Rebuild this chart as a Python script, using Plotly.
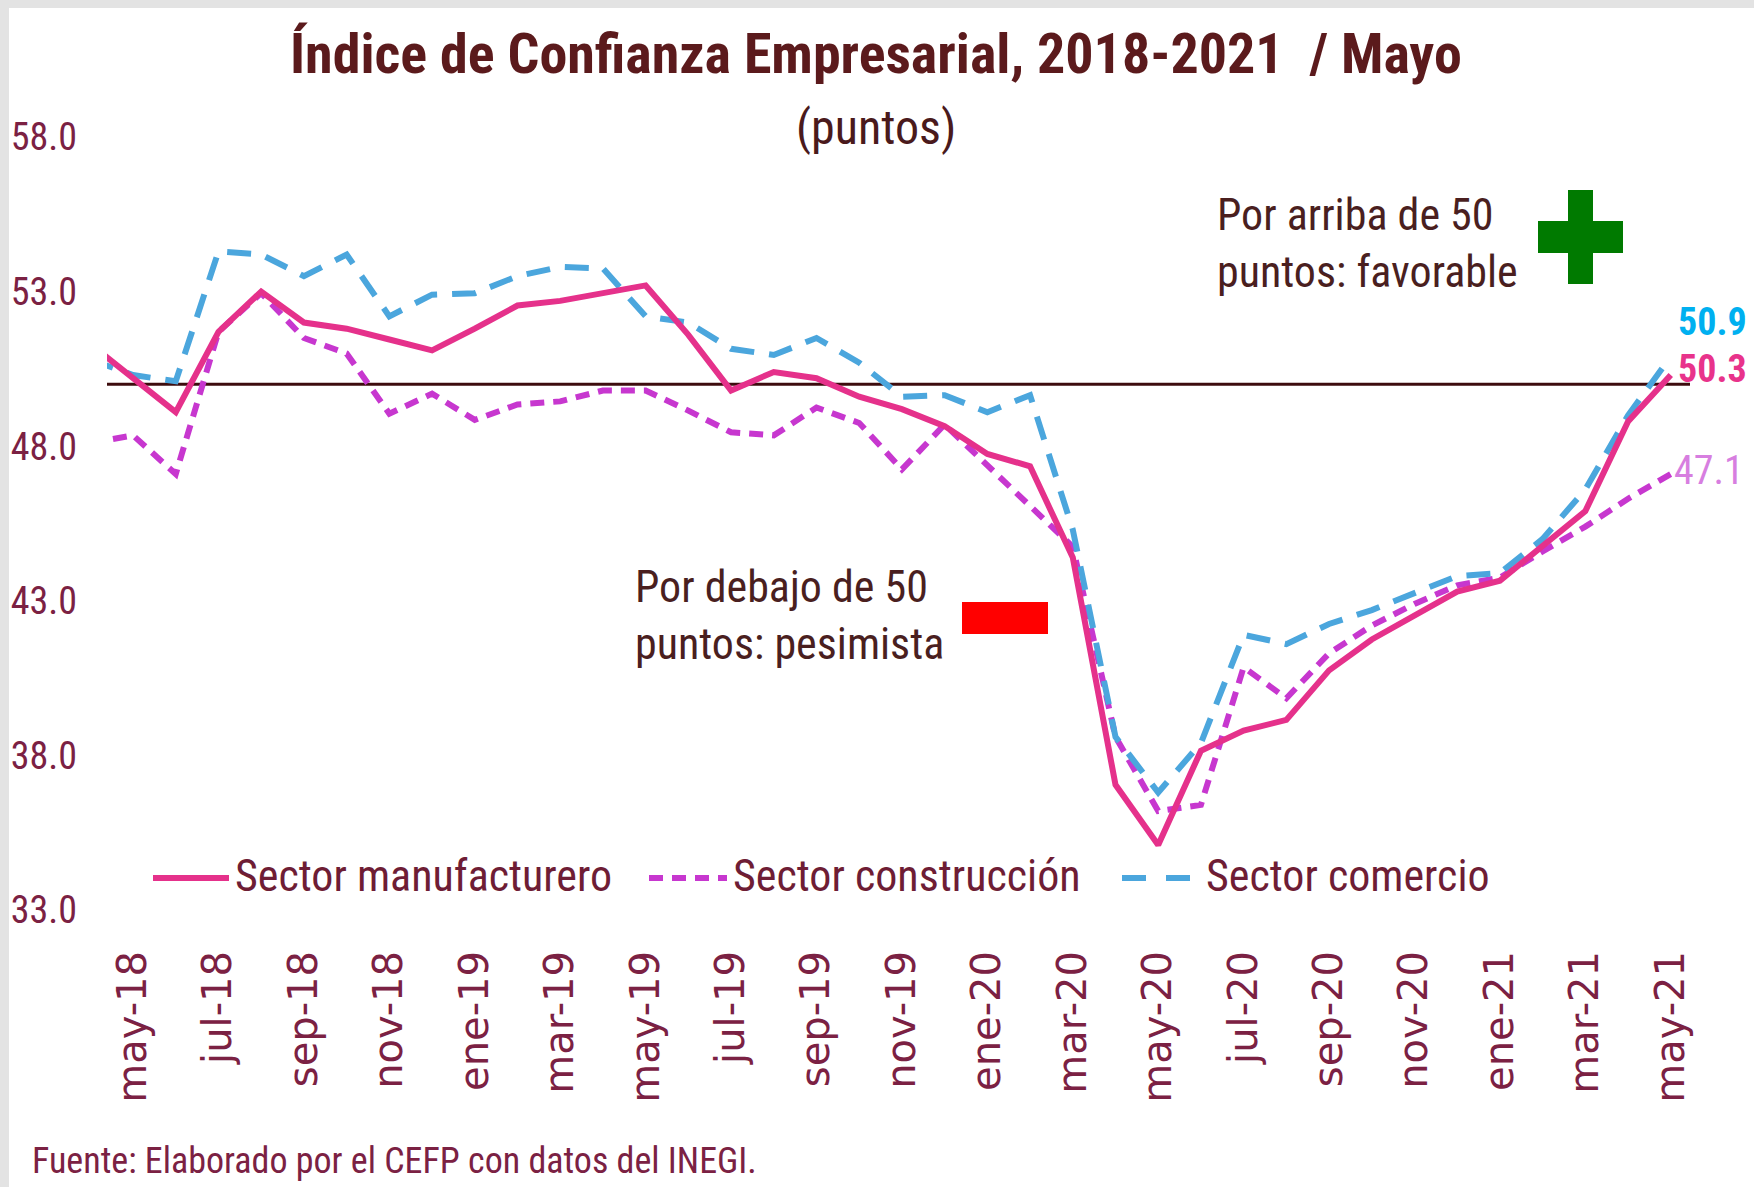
import plotly.graph_objects as go

# ---------------- data ----------------
months = ["abr-18", "may-18", "jun-18", "jul-18", "ago-18", "sep-18", "oct-18", "nov-18", "dic-18",
          "ene-19", "feb-19", "mar-19", "abr-19", "may-19", "jun-19", "jul-19", "ago-19", "sep-19",
          "oct-19", "nov-19", "dic-19", "ene-20", "feb-20", "mar-20", "abr-20", "may-20", "jun-20",
          "jul-20", "ago-20", "sep-20", "oct-20", "nov-20", "dic-20", "ene-21", "feb-21", "mar-21",
          "abr-21", "may-21"]

manufacturero = [51.3, 50.2, 49.1, 51.7, 53.0, 52.0, 51.8, 51.45, 51.1,
                 51.8, 52.55, 52.7, 52.95, 53.2, 51.6, 49.8, 50.4, 50.2,
                 49.6, 49.2, 48.65, 47.75, 47.35, 44.4, 37.05, 35.1, 38.15,
                 38.8, 39.15, 40.75, 41.75, 42.5, 43.3, 43.65, 44.8, 45.9,
                 48.8, 50.3]

construccion = [48.1, 48.35, 47.1, 51.7, 52.95, 51.5, 51.0, 49.05, 49.7,
                48.85, 49.35, 49.45, 49.8, 49.8, 49.15, 48.45, 48.35, 49.25,
                48.75, 47.25, 48.7, 47.4, 46.1, 44.75, 38.6, 36.2, 36.4,
                40.85, 39.85, 41.3, 42.2, 42.9, 43.5, 43.75, 44.6, 45.4,
                46.3, 47.1]

comercio = [50.8, 50.3, 50.1, 54.3, 54.2, 53.5, 54.2, 52.2, 52.9,
            52.95, 53.5, 53.8, 53.75, 52.2, 52.0, 51.15, 50.95, 51.5,
            50.7, 49.6, 49.65, 49.1, 49.65, 45.3, 38.6, 36.8, 38.4,
            41.9, 41.6, 42.25, 42.7, 43.25, 43.8, 43.9, 45.0, 46.6,
            49.0, 50.9]

series_names = ["Sector manufacturero", "Sector construcción", "Sector comercio"]
tick_months = months[1::2]
y_ticks = [33.0, 38.0, 43.0, 48.0, 53.0, 58.0]
threshold = 50

# ---------------- styling ----------------
W, H = 1754, 1187
L, R, T, B = 107, 1690, 137, 910

C_MAN = "#E5318B"
C_CON = "#C737CF"
C_COM = "#4BA6DD"
NARROW = "Liberation Sans Narrow, Roboto Condensed, DejaVu Sans Condensed, Arial Narrow, sans-serif"
WIDE = "DejaVu Sans, Verdana, sans-serif"
MAROON = "#7B2143"


def px(x):
    return (x - L) / (R - L)


def py(y):
    return (B - y) / (B - T)


fig = go.Figure()

fig.add_trace(go.Scatter(x=months, y=construccion, mode="lines", name=series_names[1],
                         line=dict(color=C_CON, width=6, dash="14px,9px"), showlegend=False))
fig.add_trace(go.Scatter(x=months, y=comercio, mode="lines", name=series_names[2],
                         line=dict(color=C_COM, width=6, dash="24px,15px"), showlegend=False))
fig.add_trace(go.Scatter(x=months, y=manufacturero, mode="lines", name=series_names[0],
                         line=dict(color=C_MAN, width=6), showlegend=False))

shapes = [
    # threshold line
    dict(type="line", xref="paper", yref="y", x0=0, x1=1, y0=threshold, y1=threshold,
         line=dict(color="#3D0C0E", width=3), layer="below"),
    # green plus
    dict(type="rect", xref="paper", yref="paper", x0=px(1568), x1=px(1593), y0=py(284), y1=py(190),
         fillcolor="#007A00", line=dict(width=0)),
    dict(type="rect", xref="paper", yref="paper", x0=px(1538), x1=px(1623), y0=py(253), y1=py(221),
         fillcolor="#007A00", line=dict(width=0)),
    # red minus
    dict(type="rect", xref="paper", yref="paper", x0=px(962), x1=px(1048), y0=py(634), y1=py(602),
         fillcolor="#FF0000", line=dict(width=0)),
    # textured frame strips
    dict(type="rect", xref="paper", yref="paper", x0=px(0), x1=px(9), y0=py(H), y1=py(0),
         fillcolor="#E3E3E3", line=dict(width=0), layer="below"),
    dict(type="rect", xref="paper", yref="paper", x0=px(0), x1=px(W), y0=py(8), y1=py(0),
         fillcolor="#E3E3E3", line=dict(width=0), layer="below"),
    # legend samples
    dict(type="line", xref="paper", yref="paper", x0=px(153), x1=px(229), y0=py(878), y1=py(878),
         line=dict(color=C_MAN, width=6)),
    dict(type="line", xref="paper", yref="paper", x0=px(649), x1=px(727), y0=py(878), y1=py(878),
         line=dict(color=C_CON, width=6, dash="14px,9px")),
    dict(type="line", xref="paper", yref="paper", x0=px(1122), x1=px(1199), y0=py(878), y1=py(878),
         line=dict(color=C_COM, width=6, dash="24px,20px")),
]

annotations = [
    dict(text="<b>Índice de Confianza Empresarial, 2018-2021  / Mayo</b>", xref="paper", yref="paper",
         x=px(876), y=py(54), xanchor="center", yanchor="middle", showarrow=False,
         font=dict(family=NARROW, size=56, color="#5B1A1C")),
    dict(text="(puntos)", xref="paper", yref="paper", x=px(876), y=py(127), xanchor="center",
         yanchor="middle", showarrow=False, font=dict(family=NARROW, size=48, color="#4A1A1C")),
    dict(text="Fuente: Elaborado por el CEFP con datos del INEGI.", xref="paper", yref="paper",
         x=px(30), y=py(1161), xanchor="left", yanchor="middle", showarrow=False,
         font=dict(family=NARROW, size=36, color=MAROON)),
    dict(text="Por arriba de 50<br>puntos: favorable", xref="paper", yref="paper", x=px(1215),
         y=py(243), xanchor="left", yanchor="middle", align="left", showarrow=False,
         font=dict(family=NARROW, size=44, color="#4A1F1F")),
    dict(text="Por debajo de 50<br>puntos: pesimista", xref="paper", yref="paper", x=px(633),
         y=py(615), xanchor="left", yanchor="middle", align="left", showarrow=False,
         font=dict(family=NARROW, size=44, color="#4A1F1F")),
    # legend texts
    dict(text=series_names[0], xref="paper", yref="paper", x=px(233), y=py(876), xanchor="left",
         yanchor="middle", showarrow=False, font=dict(family=NARROW, size=44, color="#6E1D35")),
    dict(text=series_names[1], xref="paper", yref="paper", x=px(731), y=py(876), xanchor="left",
         yanchor="middle", showarrow=False, font=dict(family=NARROW, size=44, color="#6E1D35")),
    dict(text=series_names[2], xref="paper", yref="paper", x=px(1204), y=py(876), xanchor="left",
         yanchor="middle", showarrow=False, font=dict(family=NARROW, size=44, color="#6E1D35")),
    # end labels
    dict(text="<b>%.1f</b>" % comercio[-1], x=months[-1], y=comercio[-1], xanchor="left",
         yanchor="middle", xshift=5, yshift=35, showarrow=False,
         font=dict(family=NARROW, size=38, color="#00B0F0")),
    dict(text="<b>%.1f</b>" % manufacturero[-1], x=months[-1], y=manufacturero[-1], xanchor="left",
         yanchor="middle", xshift=5, yshift=6, showarrow=False,
         font=dict(family=NARROW, size=38, color="#E8338B")),
    dict(text="%.1f" % construccion[-1], x=months[-1], y=construccion[-1], xanchor="left",
         yanchor="middle", xshift=1, yshift=4, showarrow=False,
         font=dict(family=NARROW, size=40, color="#D77EE0")),
]

fig.update_layout(
    width=W, height=H,
    margin=dict(l=L, r=W - R, t=T, b=H - B, pad=0),
    paper_bgcolor="white", plot_bgcolor="white",
    showlegend=False,
    shapes=shapes, annotations=annotations,
    xaxis=dict(type="category", categoryorder="array", categoryarray=months,
               range=[0.39, len(months) - 1 + 0.45],
               tickmode="array", tickvals=tick_months, ticktext=tick_months,
               tickangle=-90, tickfont=dict(family=WIDE, size=40, color=MAROON),
               showgrid=False, showline=False, zeroline=False, ticks="",
               ticklabelstandoff=32),
    yaxis=dict(range=[33, 58], tickmode="array", tickvals=y_ticks,
               ticktext=["%.1f" % v for v in y_ticks],
               tickfont=dict(family=NARROW, size=38, color=MAROON),
               showgrid=False, showline=False, zeroline=False, ticks="",
               ticklabelstandoff=29),
)

fig.write_html("out.html", config={"displayModeBar": False},
               post_script="document.body.style.margin='0';")
